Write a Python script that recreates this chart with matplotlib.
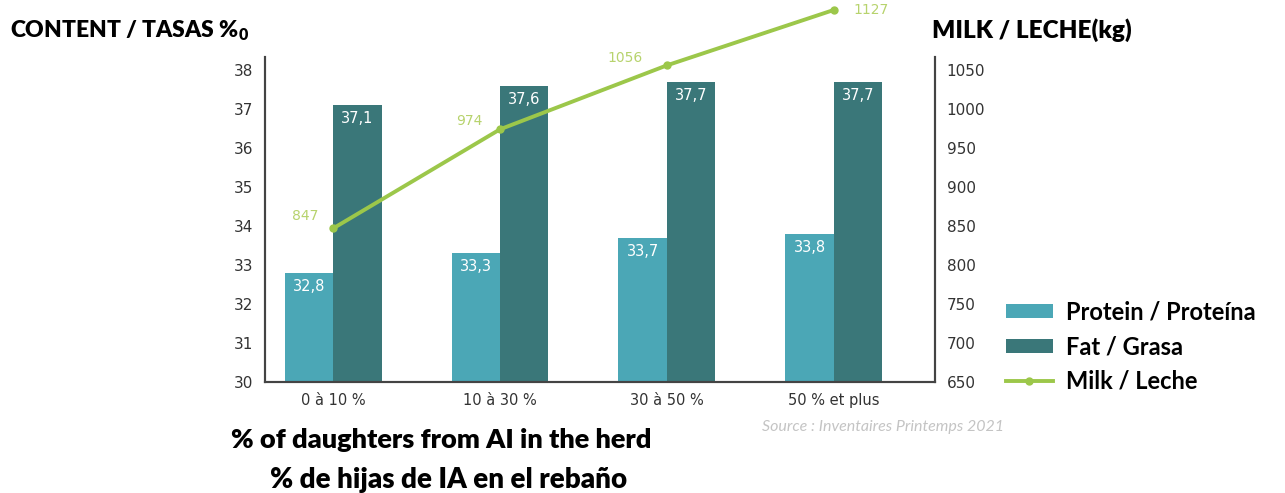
import matplotlib.pyplot as plt
import numpy as np

categories = ['0 à 10 %', '10 à 30 %', '30 à 50 %', '50 % et plus']
protein = [32.8, 33.3, 33.7, 33.8]
fat = [37.1, 37.6, 37.7, 37.7]
milk = [847, 974, 1056, 1127]
left_ticks = [30, 31, 32, 33, 34, 35, 36, 37, 38]
right_ticks = [650, 700, 750, 800, 850, 900, 950, 1000, 1050]

c_prot = '#4ba7b6'
c_fat = '#3a7779'
c_milk = '#9cc74a'
c_axis = '#444444'
tick_font = 'DejaVu Sans'

fig = plt.figure(figsize=(12.85, 4.93), dpi=100)
ax = fig.add_axes([0.206, 0.225, 0.522, 0.659])
ax2 = ax.twinx()

x = np.arange(len(categories))
w = 0.29
b1 = ax.bar(x - w/2, np.array(protein) - 30, w, bottom=30, color=c_prot, label='Protein / Proteína')
b2 = ax.bar(x + w/2, np.array(fat) - 30, w, bottom=30, color=c_fat, label='Fat / Grasa')

for xi, v in zip(x, protein):
    ax.text(xi - w/2, v - 0.15, str(v).replace('.', ','), color='white', ha='center', va='top',
            fontsize=10.5, family=tick_font)
for xi, v in zip(x, fat):
    ax.text(xi + w/2, v - 0.15, str(v).replace('.', ','), color='white', ha='center', va='top',
            fontsize=10.5, family=tick_font)

ax.set_xlim(-0.41, 3.61)
ax.set_ylim(30, 38.33)
ax2.set_ylim(650, 650 + 8.33 * 50)

ln, = ax2.plot(x, milk, color=c_milk, lw=2.8, marker='o', ms=5, clip_on=False, label='Milk / Leche')
offsets = [(-20, 9), (-22, 6), (-30, 5), (27, 0)]
for xi, v, off in zip(x, milk, offsets):
    ax2.annotate(str(v), (xi, v), xytext=off, textcoords='offset points', color='#b7d36d',
                 ha='center', va='center', fontsize=10, family=tick_font, annotation_clip=False)

ax.set_xticks(x)
ax.set_xticklabels(categories, fontsize=10.5, family=tick_font, color='#333333')
ax.set_yticks(left_ticks)
ax.set_yticklabels([str(t) for t in left_ticks], fontsize=11, family=tick_font, color='#333333')
ax2.set_yticks(right_ticks)
ax2.set_yticklabels([str(t) for t in right_ticks], fontsize=11, family=tick_font, color='#333333')
ax.tick_params(length=0, pad=8)
ax2.tick_params(length=0, pad=8)

for a in (ax, ax2):
    a.spines['top'].set_visible(False)
    for s in ('left', 'right', 'bottom'):
        a.spines[s].set_color(c_axis)
        a.spines[s].set_linewidth(1.5)

fig.text(0.008, 0.938, r'CONTENT / TASAS %$_\mathregular{0}$', fontsize=16.5, fontweight='heavy', family='Lato',
         va='center')
fig.text(0.725, 0.938, 'MILK / LECHE(kg)', fontsize=17.5, fontweight='heavy', family='Lato', va='center')
fig.text(0.343, 0.107, '% of daughters from AI in the herd', fontsize=19.5, fontweight='heavy',
         family='Lato', ha='center', va='center')
fig.text(0.349, 0.027, '% de hijas de IA en el rebaño', fontsize=20, fontweight='heavy',
         family='Lato', ha='center', va='center')
fig.text(0.781, 0.133, 'Source : Inventaires Printemps 2021', fontsize=11.5, style='italic',
         color='#c4c4c4', ha='right', va='center', family='Lato')

fig.legend(handles=[b1, b2, ln], loc='lower left', bbox_to_anchor=(0.766, 0.16), frameon=False,
           prop={'family': 'Lato', 'weight': 'bold', 'size': 17}, handlelength=2.0,
           handleheight=0.55, labelspacing=0.5, handletextpad=0.55)

plt.savefig('out.png', dpi=100)
